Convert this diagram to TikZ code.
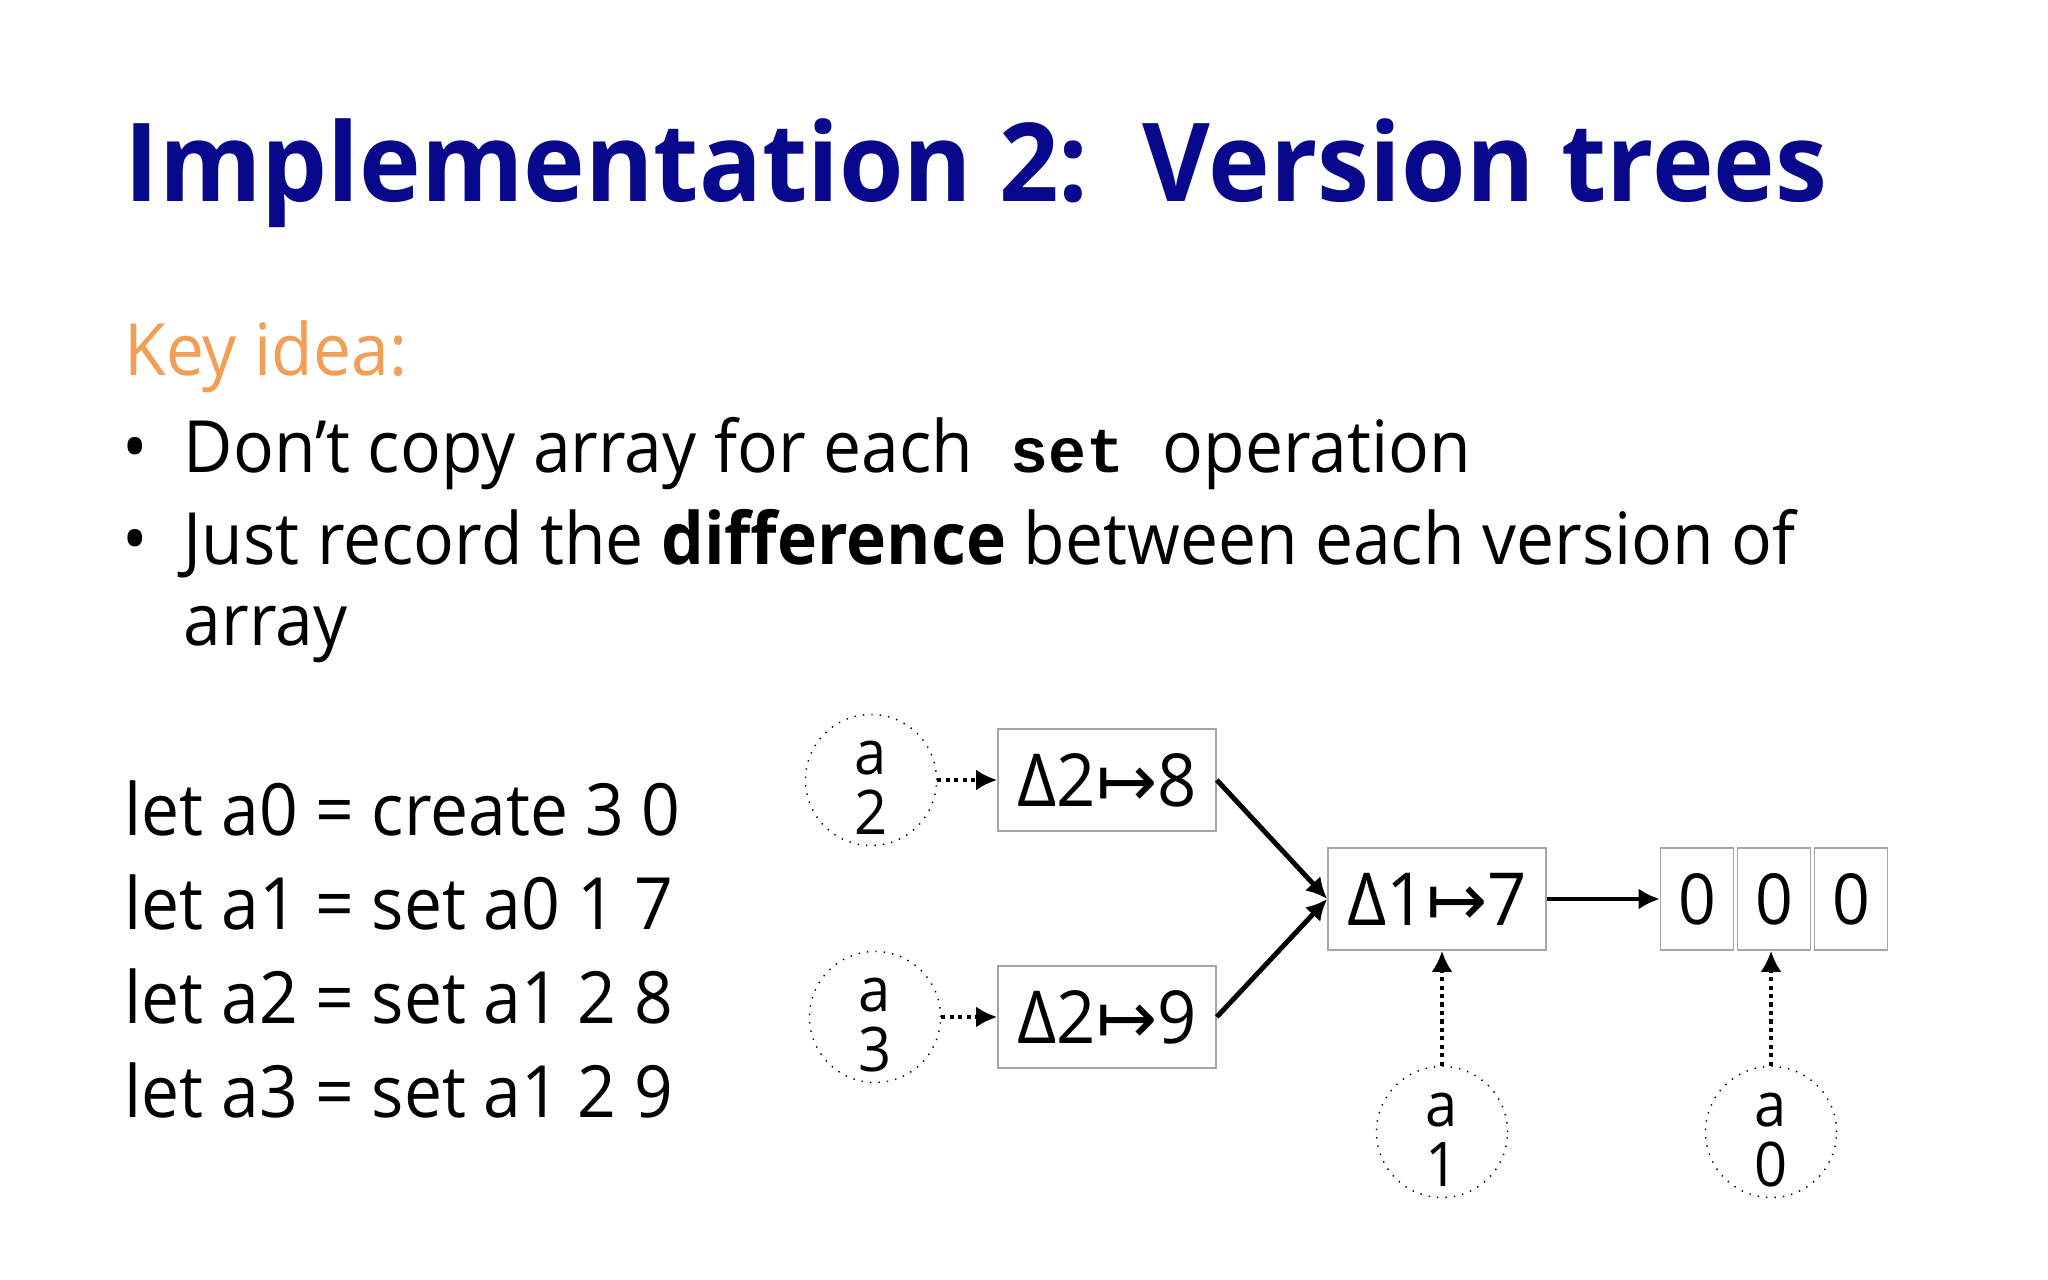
\documentclass[tikz,border=0pt]{standalone}
\usepackage{fontspec}
\setmainfont{Open Sans}[FakeStretch=0.94]
\newfontfamily\titlefont{Open Sans}[FakeStretch=0.957]
\newfontfamily\codefont{Liberation Mono}
\newfontfamily\symfont{DejaVu Sans}
\usetikzlibrary{arrows.meta}
\definecolor{navy}{RGB}{8,8,140}
\definecolor{keyorange}{RGB}{242,158,86}

\begin{document}
\begin{tikzpicture}[x=0.01cm,y=-0.01cm,
    txt/.style={anchor=base west,inner sep=0,font=\fontsize{20.5}{24}\selectfont},
    delta/.style={draw=gray!70,minimum width=2.18cm,minimum height=1.02cm,font=\fontsize{20.8}{24}\selectfont},
    cell/.style={draw=gray!70,minimum width=0.73cm,minimum height=1.02cm,font=\fontsize{20}{24}\selectfont},
    ver/.style={circle,draw,dotted,minimum size=1.31cm,inner sep=0,align=center,font=\fontsize{17.5}{17}\selectfont},
    ptr/.style={line width=1.4pt,-{Latex[length=6pt,width=6pt]}},
    dptr/.style={ptr,dash pattern=on 1.2pt off 1.2pt}]
  \useasboundingbox (0,0) rectangle (2048,1280);
  % heading and text
  \node[txt,font=\fontsize{31}{36}\selectfont\titlefont\bfseries,text=navy] (title) at (124,202) {Implementation 2:\ \ Version trees};
  \node[txt,text=keyorange] (key) at (124,376) {Key idea:};
  \node[txt] (b1) at (122,473) {•};
  \node[txt] (l1) at (183,473) {Don’t copy array for each{\codefont\bfseries\fontsize{18}{20}\selectfont\ set\ }operation};
  \node[txt] (b2) at (122,565) {•};
  \node[txt] (l2) at (183,565) {Just record the \textbf{difference} between each version of};
  \node[txt] (l3) at (183,646) {array};
  \foreach \t [count=\k from 0] in {create 3 0, set a0 1 7, set a1 2 8, set a1 2 9}
    \node[txt] (code\k) at (124,836+94*\k) {let a\k{} = \t};
  % version tree
  \node[delta] (d8) at (1107,780) {Δ2{\symfont ↦}8};
  \node[delta] (d9) at (1107,1017) {Δ2{\symfont ↦}9};
  \node[delta] (d7) at (1437,899) {Δ1{\symfont ↦}7};
  \foreach \i in {0,1,2}
    \node[cell] (c\i) at (1697+\i*77,899) {0};
  \node[ver] (a2) at (871,780) {\rule{0pt}{14pt}a\\2};
  \node[ver] (a3) at (875,1017) {\rule{0pt}{14pt}a\\3};
  \node[ver] (a1) at (1442,1132) {\rule{0pt}{14pt}a\\1};
  \node[ver] (a0) at (1771,1132) {\rule{0pt}{14pt}a\\0};
  \draw[dptr] (a2) -- (d8);
  \draw[dptr] (a3) -- (d9);
  \draw[ptr] (d8.east) -- (d7.west);
  \draw[ptr] (d9.east) -- (d7.west);
  \draw[ptr] (d7) -- (c0);
  \draw[dptr] (a1) -- (a1 |- d7.south);
  \draw[dptr] (a0) -- (a0 |- c1.south);
\end{tikzpicture}
\end{document}
